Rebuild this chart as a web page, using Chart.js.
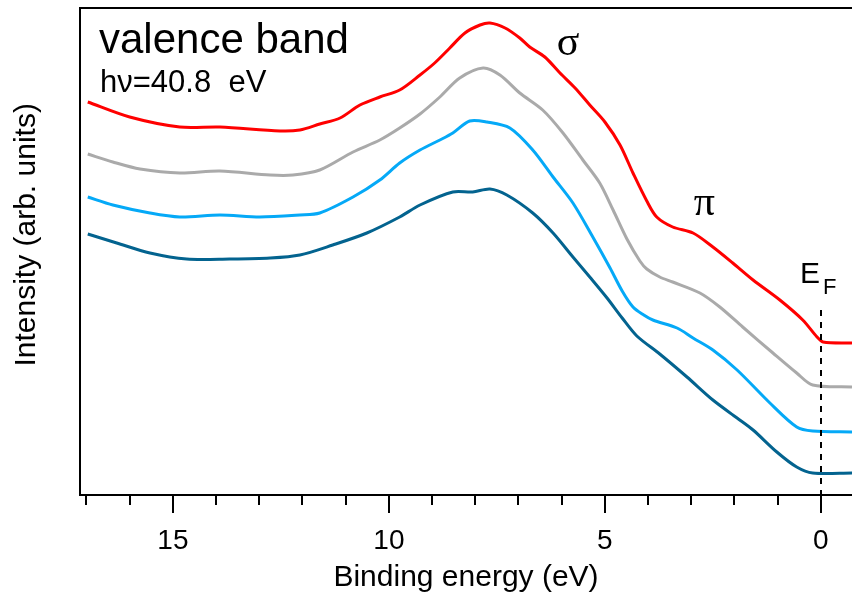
<!DOCTYPE html>
<html>
<head>
<meta charset="utf-8">
<script src="https://cdn.jsdelivr.net/npm/chart.js@4.4.1/dist/chart.umd.min.js"></script>
<style>
  html, body { margin: 0; padding: 0; background: #fff; }
  #wrap { width: 852px; height: 596px; }
</style>
</head>
<body>
<div id="wrap"><canvas id="vbChart"></canvas></div>
<script>
// binding energy (eV) / intensity (arb. units)
var redE = [16.97, 16.0, 14.84, 13.91, 12.52, 12.06, 11.6, 11.13, 10.67, 10.21, 9.75, 9.28, 8.94, 8.59, 8.24, 7.89, 7.66, 7.31, 6.97, 6.74, 6.39, 6.04, 5.69, 5.35, 5.0, 4.65, 4.35, 4.03, 3.8, 3.43, 2.96, 2.5, 2.04, 1.57, 0.95, 0.42, 0.09, -0.05, -0.72];
var redI = [393, 378, 368, 368, 364, 365, 371, 377, 390, 398, 405, 420, 432, 447, 462, 470, 472, 467, 457, 448, 438, 422, 407, 390, 373, 350, 322, 294, 278, 268, 262, 248, 232, 215, 195, 175, 158, 153, 152];

var grayE = [16.97, 16.39, 15.76, 14.84, 13.91, 12.75, 12.22, 11.6, 10.83, 10.21, 9.75, 9.28, 8.82, 8.36, 7.82, 7.43, 6.97, 6.44, 5.97, 5.51, 5.12, 4.81, 4.49, 4.19, 4.03, 3.73, 3.43, 2.8, 2.34, 1.81, 1.11, 0.56, 0.19, -0.72];
var grayI = [341, 333, 326, 322, 324, 320, 320, 325, 343, 355, 367, 381, 398, 417, 427, 420, 402, 385, 362, 335, 312, 285, 256, 234, 226, 218, 213, 202, 188, 168, 142, 122, 110, 108];

var lightE = [16.97, 16.39, 15.53, 14.84, 13.91, 12.99, 12.06, 11.6, 10.83, 10.21, 9.75, 9.28, 8.82, 8.52, 8.13, 7.73, 7.2, 6.67, 6.2, 5.74, 5.28, 4.88, 4.6, 4.35, 4.1, 3.89, 3.33, 2.96, 2.5, 1.94, 1.18, 0.56, 0.19, -0.72];
var lightI = [298, 290, 282, 278, 280, 278, 280, 282, 298, 315, 332, 345, 355, 362, 374, 373, 367, 345, 318, 292, 258, 227, 204, 188, 180, 175, 167, 157, 145, 125, 92, 68, 64, 63];

var darkE = [16.97, 16.3, 15.53, 14.68, 13.69, 12.75, 12.06, 11.3, 10.51, 9.75, 9.28, 8.52, 8.06, 7.66, 7.27, 6.67, 6.2, 5.74, 5.35, 4.95, 4.6, 4.26, 3.73, 3.1, 2.5, 1.94, 1.57, 1.02, 0.56, 0.19, -0.72];
var darkI = [261, 252, 242, 236, 236, 237, 240, 250, 262, 278, 290, 303, 303, 306, 300, 282, 262, 238, 218, 197, 177, 159, 141, 118, 95, 77, 65, 43, 28, 22, 22];

var xMin = -0.72, xMax = 17.15;
var majorTicks = [15, 10, 5, 0];

function pts(xs, ys) {
    return xs.map(function (x, i) { return { x: x, y: ys[i] }; });
}

function line(data, color) {
    return {
        data: data,
        borderColor: color,
        borderWidth: 3,
        pointRadius: 0,
        tension: 0.3,
        fill: false
    };
}

// frame, tick marks and text labels drawn on top
var decorations = {
    id: 'decorations',
    afterDraw(chart) {
        const ctx = chart.ctx;
        const { top, bottom, left, right } = chart.chartArea;
        const xs = chart.scales.x, ys = chart.scales.y;
        ctx.save();
        ctx.strokeStyle = '#000';
        ctx.lineWidth = 2;

        // top line of the frame
        ctx.beginPath();
        ctx.moveTo(left - 1, top);
        ctx.lineTo(right, top);
        ctx.stroke();

        // ticks: every 1 eV, longer at 5 eV
        for (let v = 17; v >= 0; v--) {
            const px = Math.round(xs.getPixelForValue(v));
            const len = majorTicks.indexOf(v) >= 0 ? 18 : 10;
            ctx.beginPath();
            ctx.moveTo(px, bottom);
            ctx.lineTo(px, bottom + len);
            ctx.stroke();
        }

        // Fermi level marker
        const ef = Math.round(xs.getPixelForValue(0));
        ctx.setLineDash([6, 6]);
        ctx.beginPath();
        ctx.moveTo(ef, ys.getPixelForValue(185));
        ctx.lineTo(ef, bottom);
        ctx.stroke();
        ctx.setLineDash([]);

        ctx.fillStyle = '#000';
        ctx.textAlign = 'left';
        ctx.textBaseline = 'alphabetic';
        ctx.font = '42px "Liberation Sans", Arial';
        ctx.fillText('valence band', 99, 53);
        ctx.font = '31px "Liberation Sans", Arial';
        ctx.fillText('h\u03bd=40.8  eV', 100, 92);

        ctx.font = '42px "Liberation Serif", "Times New Roman"';
        ctx.textAlign = 'center';
        ctx.fillText('\u03c3', xs.getPixelForValue(5.85), ys.getPixelForValue(440));
        ctx.fillText('\u03c0', xs.getPixelForValue(2.7), ys.getPixelForValue(280));

        ctx.font = '30px "Liberation Sans", Arial';
        ctx.textAlign = 'right';
        const efY = ys.getPixelForValue(212);
        ctx.fillText('E', ef - 1, efY);
        ctx.textAlign = 'left';
        ctx.font = '22px "Liberation Sans", Arial';
        ctx.fillText('F', ef + 2, efY + 11);
        ctx.restore();
    }
};

var vbChart = new Chart(document.getElementById('vbChart'), {
    type: 'line',
    data: {
        datasets: [
            line(pts(redE, redI), '#ff0000'),
            line(pts(grayE, grayI), '#aaaaaa'),
            line(pts(lightE, lightI), '#05a9f7'),
            line(pts(darkE, darkI), '#03638f')
        ]
    },
    options: {
        responsive: true,
        maintainAspectRatio: false,
        animation: false,
        layout: { padding: { top: 8, left: 0, right: 0, bottom: 0 } },
        plugins: {
            legend: { display: false },
            tooltip: { enabled: false }
        },
        scales: {
            x: {
                type: 'linear',
                reverse: true,
                min: xMin,
                max: xMax,
                afterFit(scale) { scale.height = 101; },
                border: { display: true, color: '#000', width: 2 },
                grid: { display: true, drawOnChartArea: false, drawTicks: true, tickLength: 18, color: 'transparent' },
                ticks: {
                    stepSize: 1,
                    includeBounds: false,
                    autoSkip: false,
                    maxRotation: 0,
                    padding: 11,
                    color: '#000',
                    font: { family: '"Liberation Sans", Arial', size: 28 },
                    callback(v) { return majorTicks.indexOf(v) >= 0 ? String(v) : ''; }
                },
                title: {
                    display: true,
                    text: 'Binding energy (eV)',
                    color: '#000',
                    font: { family: '"Liberation Sans", Arial', size: 30 },
                    padding: { top: 0, bottom: 0 }
                }
            },
            y: {
                min: 0,
                max: 487,
                afterFit(scale) { scale.width = 80; },
                border: { display: true, color: '#000', width: 2 },
                grid: { display: false },
                ticks: { display: false },
                title: {
                    display: true,
                    // leading spaces lift the centred label a little, as in the original
                    text: '    Intensity (arb. units)',
                    color: '#000',
                    font: { family: '"Liberation Sans", Arial', size: 30 },
                    padding: { top: 9, bottom: 0 }
                }
            }
        }
    },
    plugins: [decorations]
});
</script>
</body>
</html>
